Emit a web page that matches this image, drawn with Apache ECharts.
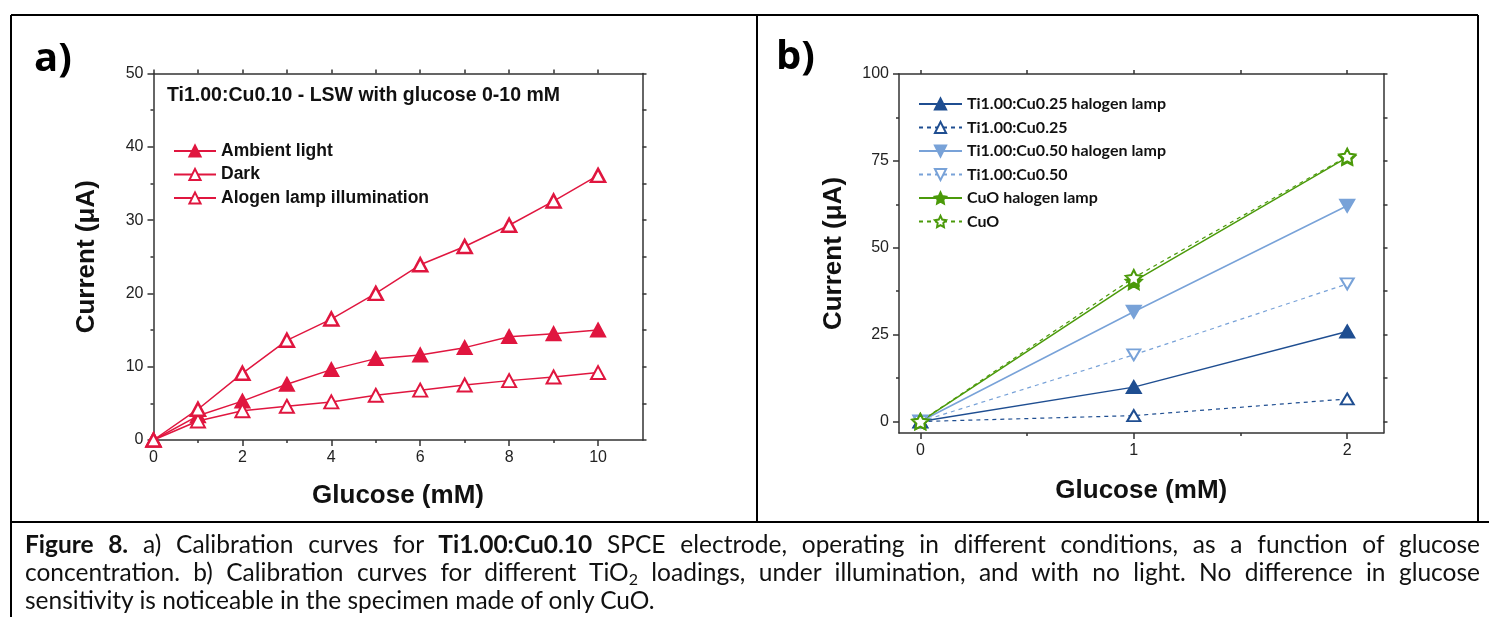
<!DOCTYPE html>
<html>
<head>
<meta charset="utf-8">
<script src="https://cdn.jsdelivr.net/npm/echarts@6/dist/echarts.min.js"></script>
<style>
  html, body { margin: 0; padding: 0; background: #fff; overflow: hidden; }
  #main { position: absolute; left: 0; top: 0; width: 1489px; height: 617px; }
  #cap {
    position: absolute; left: 25px; top: 530px; width: 1455px;
    font-family: Lato, "Open Sans", sans-serif; font-size: 24.5px; line-height: 28px; color: #111;
  }
  #cap div { white-space: nowrap; }
  #cap .j { text-align: justify; text-align-last: justify; }
  #cap sub { font-size: 16px; line-height: 0; vertical-align: -4px; }
</style>
</head>
<body>
<div id="main"></div>
<div id="cap">
  <div class="j"><b>Figure 8.</b> a) Calibration curves for <b>Ti1.00:Cu0.10</b> SPCE electrode, operating in different conditions, as a function of glucose</div>
  <div class="j">concentration. b) Calibration curves for different TiO<sub>2</sub> loadings, under illumination, and with no light. No difference in glucose</div>
  <div>sensitivity is noticeable in the specimen made of only CuO.</div>
</div>
<script>
// panel a) glucose 0-10 mM
const glucoseA = [0, 1, 2, 3, 4, 5, 6, 7, 8, 9, 10];
const ambient = [0, 3.3, 5.3, 7.6, 9.6, 11.1, 11.6, 12.6, 14.1, 14.5, 15.0];
const dark = [0, 2.6, 4.0, 4.6, 5.2, 6.1, 6.8, 7.5, 8.1, 8.6, 9.2];
const alogen = [0, 4.2, 9.1, 13.6, 16.5, 20.0, 23.9, 26.4, 29.3, 32.6, 36.1];

// panel b) glucose 0-2 mM
const glucoseB = [0, 1, 2];
const cu25Lamp = [0, 9.9, 25.9];
const cu25 = [0, 1.7, 6.5];
const cu50Lamp = [0, 31.6, 62.1];
const cu50 = [0, 19.2, 39.6];
const cuoLamp = [0, 40.3, 76.0];
const cuo = [0, 41.4, 76.3];

// tick labels
const xTicksA = [0, 2, 4, 6, 8, 10];
const xMinorA = [1, 3, 5, 7, 9];
const yTicksA = [0, 10, 20, 30, 40, 50];
const yMinorA = [5, 15, 25, 35, 45];
const xTicksB = [0, 1, 2];
const xMinorB = [0.5, 1.5];
const yTicksB = [0, 25, 50, 75, 100];
const yMinorB = [12.5, 37.5, 62.5, 87.5];

const RED = '#E0163F';
const DBLUE = '#1F4E91';
const LBLUE = '#78A2D8';
const GREEN = '#4B9A0A';
const AXIS = '#333';
const ARIAL = '"Liberation Sans", Arial, sans-serif';
const STAR = 'path://M50 0 L64.69 29.77 L97.55 34.55 L73.78 57.73 L79.39 90.45 L50 75 L20.61 90.45 L26.22 57.73 L2.45 34.55 L35.31 29.77 Z';

function pairs(xs, ys) {
  return xs.map((x, i) => [x, ys[i]]);
}

// main axis + minor ticks + mirrored frame side
function frame(dim, grid, min, max, major, minor, name, nameGap) {
  const line = { color: AXIS, width: 1.5 };
  const base = { type: 'value', gridIndex: grid, min: min, max: max, splitLine: { show: false } };
  return [
    Object.assign({}, base, {
      position: dim === 'x' ? 'bottom' : 'left',
      name: name,
      nameLocation: 'middle',
      nameGap: nameGap,
      nameTextStyle: { fontFamily: ARIAL, fontWeight: 'bold', fontSize: 26, color: '#111' },
      axisLine: { show: true, onZero: false, lineStyle: line },
      axisTick: { show: true, customValues: major, length: 6, lineStyle: line },
      axisLabel: { customValues: major, fontFamily: ARIAL, fontSize: 16, color: '#222', margin: 10 }
    }),
    Object.assign({}, base, {
      position: dim === 'x' ? 'bottom' : 'left',
      axisLine: { show: false, onZero: false },
      axisTick: { show: true, customValues: minor, length: 3, lineStyle: line },
      axisLabel: { show: false }
    }),
    Object.assign({}, base, {
      position: dim === 'x' ? 'top' : 'right',
      axisLine: { show: true, onZero: false, lineStyle: line },
      axisTick: { show: true, customValues: major.concat(minor), length: 4, lineStyle: line },
      axisLabel: { show: false }
    })
  ];
}

function lineSeries(name, xi, yi, xs, ys, color, opt) {
  return Object.assign({
    name: name,
    type: 'line',
    xAxisIndex: xi,
    yAxisIndex: yi,
    data: pairs(xs, ys),
    clip: false,
    symbol: 'triangle',
    symbolSize: [14, 13],
    lineStyle: { color: color, width: 1.5 },
    itemStyle: { color: color, borderColor: color, borderWidth: 2 },
    emphasis: { disabled: true }
  }, opt);
}

const chart = echarts.init(document.getElementById('main'));

const option = {
  animation: false,
  backgroundColor: '#fff',
  grid: [
    { left: 153.5, top: 73.5, width: 489, height: 366.5 },
    { left: 899, top: 74, width: 484.5, height: 359 }
  ],
  xAxis: frame('x', 0, 0, 11, xTicksA, xMinorA, 'Glucose (mM)', 43)
    .concat(frame('x', 1, -0.1, 2.17, xTicksB, xMinorB, 'Glucose (mM)', 45)),
  yAxis: frame('y', 0, 0, 50, yTicksA, yMinorA, 'Current (\u03bcA)', 54)
    .concat(frame('y', 1, -3.3, 100, yTicksB, yMinorB, 'Current (\u03bcA)', 52)),
  legend: [
    {
      left: 173, top: 142, orient: 'vertical', padding: 0,
      itemWidth: 42, itemHeight: 14, itemGap: 5.5,
      data: ['Ambient light', 'Dark', 'Alogen lamp illumination'],
      textStyle: { fontFamily: ARIAL, fontWeight: 'bold', fontSize: 17.5, color: '#111' }
    },
    {
      left: 918, top: 96, orient: 'vertical', padding: 0,
      itemWidth: 43, itemHeight: 14, itemGap: 7.5,
      data: ['Ti1.00:Cu0.25 halogen lamp', 'Ti1.00:Cu0.25', 'Ti1.00:Cu0.50 halogen lamp', 'Ti1.00:Cu0.50', 'CuO halogen lamp', 'CuO'],
      textStyle: { fontFamily: 'Lato, sans-serif', fontWeight: 'bold', fontSize: 16, color: '#111' }
    }
  ],
  graphic: [
    // table borders
    { type: 'line', shape: { x1: 11, y1: 15, x2: 1478, y2: 15 }, style: { stroke: '#000', lineWidth: 2 } },
    { type: 'line', shape: { x1: 11, y1: 15, x2: 11, y2: 617 }, style: { stroke: '#000', lineWidth: 2 } },
    { type: 'line', shape: { x1: 757, y1: 15, x2: 757, y2: 522 }, style: { stroke: '#000', lineWidth: 2 } },
    { type: 'line', shape: { x1: 1478, y1: 15, x2: 1478, y2: 522 }, style: { stroke: '#000', lineWidth: 2 } },
    { type: 'line', shape: { x1: 11, y1: 522, x2: 1489, y2: 522 }, style: { stroke: '#000', lineWidth: 2 } },
    // panel letters
    { type: 'text', left: 34, top: 40, style: { text: 'a)', font: 'bold 40px "Open Sans", sans-serif', fill: '#000' } },
    { type: 'text', left: 776, top: 38, style: { text: 'b)', font: 'bold 40px "Open Sans", sans-serif', fill: '#000' } },
    // panel a title
    { type: 'text', left: 167, top: 86, style: { text: 'Ti1.00:Cu0.10 - LSW with glucose 0-10 mM', font: 'bold 19.5px "Liberation Sans", Arial', fill: '#111' } }
  ],
  series: [
    lineSeries('Ambient light', 0, 0, glucoseA, ambient, RED, {}),
    lineSeries('Dark', 0, 0, glucoseA, dark, RED, { itemStyle: { color: '#fff', borderColor: RED, borderWidth: 2 } }),
    lineSeries('Alogen lamp illumination', 0, 0, glucoseA, alogen, RED, { itemStyle: { color: '#fff', borderColor: RED, borderWidth: 2.5 } }),

    lineSeries('Ti1.00:Cu0.25 halogen lamp', 3, 3, glucoseB, cu25Lamp, DBLUE, { symbolSize: [14, 12] }),
    lineSeries('Ti1.00:Cu0.25', 3, 3, glucoseB, cu25, DBLUE, {
      symbolSize: [13, 11],
      lineStyle: { color: DBLUE, width: 1.2, type: [4, 4] },
      itemStyle: { color: '#fff', borderColor: DBLUE, borderWidth: 2 }
    }),
    lineSeries('Ti1.00:Cu0.50 halogen lamp', 3, 3, glucoseB, cu50Lamp, LBLUE, { symbolSize: [14, 12], symbolRotate: 180 }),
    lineSeries('Ti1.00:Cu0.50', 3, 3, glucoseB, cu50, LBLUE, {
      symbolSize: [13, 11], symbolRotate: 180,
      lineStyle: { color: LBLUE, width: 1.2, type: [4, 4] },
      itemStyle: { color: '#fff', borderColor: LBLUE, borderWidth: 2 }
    }),
    lineSeries('CuO halogen lamp', 3, 3, glucoseB, cuoLamp, GREEN, { symbol: STAR, symbolSize: 16, symbolKeepAspect: true }),
    lineSeries('CuO', 3, 3, glucoseB, cuo, GREEN, {
      symbol: STAR, symbolSize: 16, symbolKeepAspect: true,
      lineStyle: { color: GREEN, width: 1.2, type: [4, 4] },
      itemStyle: { color: '#fff', borderColor: GREEN, borderWidth: 2 }
    })
  ]
};

chart.setOption(option);
window.addEventListener('resize', function() {
  chart.resize();
});
</script>
</body>
</html>
